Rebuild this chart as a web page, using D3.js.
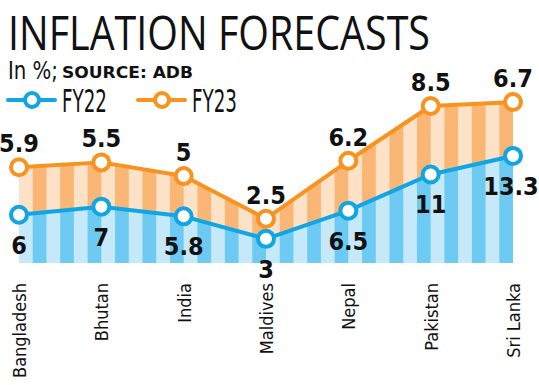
<!DOCTYPE html>
<html>
<head>
<meta charset="utf-8">
<script src="https://cdn.jsdelivr.net/npm/d3@7"></script>
<style>
  body { margin: 0; background: #fff; }
  svg { display: block; }
  .narrow { font-family: "Liberation Sans Narrow", "DejaVu Sans Condensed", "Open Sans", sans-serif; }
</style>
</head>
<body>
<svg id="chart" width="539" height="385"></svg>
<script>
// data
var countries = ["Bangladesh", "Bhutan", "India", "Maldives", "Nepal", "Pakistan", "Sri Lanka"];
var fy22 = [6, 7, 5.8, 3, 6.5, 11, 13.3];
var fy23 = [5.9, 5.5, 5, 2.5, 6.2, 8.5, 6.7];
var seriesNames = ["FY22", "FY23"];

var blue = "#12a5e3", blueDark = "#6dcbf3", blueLight = "#c6e9f9";
var orange = "#f7931e", orangeDark = "#f9b675", orangeLight = "#fde2c8";

var svg = d3.select("#chart");
var width = 539, height = 385;
var margin = {left: 19, right: 26, top: 0, baseline: 263};

var rows = countries.map(function(c, i){ return {country: c, FY22: fy22[i], FY23: fy23[i]}; });
var stack = d3.stack().keys(seriesNames)(rows);

var x = d3.scalePoint().domain(countries).range([margin.left, width - margin.right]);
var y = d3.scaleLinear().domain([0, 20]).range([margin.baseline, margin.baseline - 161]);

// title
svg.append("text")
  .attr("x", 8).attr("y", 50)
  .attr("font-family", "Open Sans, sans-serif")
  .attr("font-size", 48)
  .attr("textLength", 422).attr("lengthAdjust", "spacingAndGlyphs")
  .attr("fill", "#111")
  .text("INFLATION FORECASTS");

svg.append("text")
  .attr("class", "narrow")
  .attr("x", 8).attr("y", 79)
  .attr("font-size", 24)
  .attr("textLength", 50).attr("lengthAdjust", "spacingAndGlyphs")
  .attr("fill", "#111")
  .text("In %;");
svg.append("text")
  .attr("x", 62).attr("y", 78)
  .attr("font-family", "DejaVu Sans, sans-serif")
  .attr("font-weight", "bold")
  .attr("font-size", 15)
  .attr("textLength", 131).attr("lengthAdjust", "spacingAndGlyphs")
  .attr("fill", "#111")
  .text("SOURCE: ADB");

// legend
var legend = svg.append("g").selectAll("g")
  .data([{name: "FY22", color: blue, x: 8}, {name: "FY23", color: orange, x: 138}])
  .enter().append("g")
  .attr("transform", function(d){ return "translate(" + d.x + ",100)"; });
legend.append("line")
  .attr("x1", 0).attr("x2", 47).attr("y1", 0).attr("y2", 0)
  .attr("stroke", function(d){ return d.color; })
  .attr("stroke-width", 4).attr("stroke-linecap", "round");
legend.append("circle")
  .attr("cx", 24).attr("cy", 0).attr("r", 7)
  .attr("fill", "#fff")
  .attr("stroke", function(d){ return d.color; })
  .attr("stroke-width", 4);
legend.append("text")
  .attr("class", "narrow")
  .attr("x", 54).attr("y", 12)
  .attr("font-size", 32)
  .attr("textLength", 45).attr("lengthAdjust", "spacingAndGlyphs")
  .attr("fill", "#111")
  .text(function(d){ return d.name; });

// striped patterns
var defs = svg.append("defs");
var step = (x.range()[1] - x.range()[0]) / (countries.length - 1) / 3;
[["blueStripe", blueLight, blueDark], ["orangeStripe", orangeLight, orangeDark]].forEach(function(p){
  var pat = defs.append("pattern")
    .attr("id", p[0])
    .attr("patternUnits", "userSpaceOnUse")
    .attr("x", margin.left).attr("y", 0)
    .attr("width", step).attr("height", height);
  pat.append("rect").attr("width", step / 2).attr("height", height).attr("fill", p[1]);
  pat.append("rect").attr("x", step / 2).attr("width", step / 2).attr("height", height).attr("fill", p[2]);
});

var area = d3.area()
  .x(function(d){ return x(d.data.country); })
  .y0(function(d){ return y(d[0]); })
  .y1(function(d){ return y(d[1]); });

svg.selectAll(".area")
  .data(stack)
  .enter().append("path")
  .attr("class", "area")
  .attr("d", area)
  .attr("fill", function(d, i){ return i === 0 ? "url(#blueStripe)" : "url(#orangeStripe)"; });

var line = d3.line()
  .x(function(d){ return x(d.data.country); })
  .y(function(d){ return y(d[1]); });

var colors = [blue, orange];
stack.forEach(function(s, i){
  svg.append("path")
    .datum(s)
    .attr("d", line)
    .attr("fill", "none")
    .attr("stroke", colors[i])
    .attr("stroke-width", 4)
    .attr("stroke-linejoin", "round");
});
stack.forEach(function(s, i){
  svg.selectAll(".pt" + i)
    .data(s)
    .enter().append("circle")
    .attr("cx", function(d){ return x(d.data.country); })
    .attr("cy", function(d){ return y(d[1]); })
    .attr("r", 8)
    .attr("fill", "#fff")
    .attr("stroke", colors[i])
    .attr("stroke-width", 4);
});

// value labels
svg.selectAll(".lab23")
  .data(stack[1])
  .enter().append("text")
  .attr("class", "narrow")
  .attr("x", function(d){ return x(d.data.country); })
  .attr("y", function(d){ return y(d[1]) - 15; })
  .attr("text-anchor", "middle")
  .attr("font-size", 25).attr("font-weight", "bold")
  .attr("fill", "#111")
  .text(function(d){ return d.data.FY23; });

svg.selectAll(".lab22")
  .data(stack[0])
  .enter().append("text")
  .attr("class", "narrow")
  .attr("x", function(d){ return x(d.data.country) - (d.data.country === "Sri Lanka" ? 2 : 0); })
  .attr("y", function(d){ return y(d[1]) + 39; })
  .attr("text-anchor", "middle")
  .attr("font-size", 25).attr("font-weight", "bold")
  .attr("fill", "#111")
  .text(function(d){ return d.data.FY22; });

// category labels
svg.selectAll(".cat")
  .data(countries)
  .enter().append("text")
  .attr("class", "narrow")
  .attr("transform", function(d){ return "translate(" + (x(d) + 7) + ",283) rotate(-90)"; })
  .attr("text-anchor", "end")
  .attr("font-size", 18)
  .attr("fill", "#111")
  .text(function(d){ return d; });
</script>
</body>
</html>
